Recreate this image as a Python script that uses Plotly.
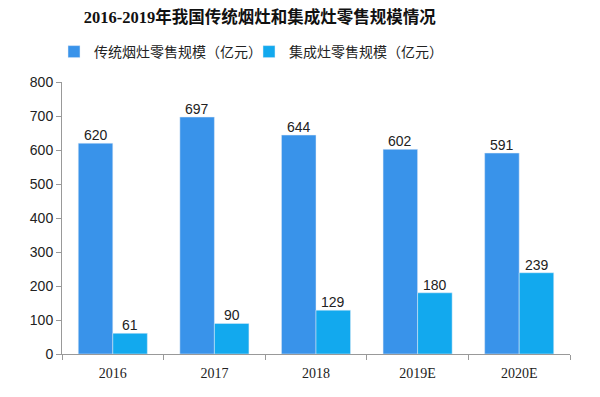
import plotly.graph_objects as go

categories = ["2016", "2017", "2018", "2019E", "2020E"]
traditional = [620, 697, 644, 602, 591]
integrated = [61, 90, 129, 180, 239]
series_names = ["传统烟灶零售规模（亿元）", "集成灶零售规模（亿元）"]
title_text = "2016-2019年我国传统烟灶和集成灶零售规模情况"

serif_fam = "Liberation Serif, Noto Sans CJK SC, serif"
num_fam = "Liberation Sans, Arial, sans-serif"
colors = ["#3993ea", "#12a9ee"]

fig = go.Figure()
for name, vals, col in zip(series_names, [traditional, integrated], colors):
    fig.add_trace(go.Bar(x=categories, y=vals, name=name, marker_color=col))

# value labels just above each bar (x given as category index)
half_bar_px = 17.3
for vals, shift in [(traditional, -half_bar_px), (integrated, half_bar_px)]:
    for i, v in enumerate(vals):
        fig.add_annotation(x=i, y=v, text=str(v), showarrow=False,
                           xshift=shift, yanchor="bottom", yshift=-2,
                           font=dict(size=14, color="#222", family=num_fam))

fig.update_layout(
    width=600, height=397,
    margin=dict(l=62, r=30, t=82, b=43, autoexpand=False),
    paper_bgcolor="white", plot_bgcolor="white",
    font=dict(family=num_fam, size=14, color="#222"),
    title=dict(text="<b>" + title_text + "</b>", x=0.433, xanchor="center",
               xref="container", yref="container",
               y=0.957, yanchor="middle", font=dict(size=16.5, family=serif_fam, color="#111")),
    barmode="group", bargap=0.32, bargroupgap=0,
    legend=dict(orientation="h", x=0.09, y=0.869, xref="container", yref="container",
                xanchor="left", yanchor="middle",
                font=dict(size=14, family="Noto Sans CJK SC", color="#222"),
                entrywidth=150, entrywidthmode="pixels", itemwidth=30),
    showlegend=True,
)
fig.update_yaxes(range=[0, 800], dtick=100, showgrid=False, showline=True,
                 linecolor="#999", ticks="outside", ticklen=5, tickcolor="#999",
                 tickfont=dict(size=14, family=num_fam), zeroline=False)
fig.update_xaxes(type="category", categoryorder="array", categoryarray=categories,
                 range=[-0.5, len(categories) - 0.5],
                 showline=True, linecolor="#999", ticks="outside", ticklen=5,
                 tickcolor="#999", tickson="boundaries", ticklabelstandoff=6,
                 tickangle=0, tickfont=dict(size=14, family=serif_fam))

fig.write_html("out.html", config={"displayModeBar": False},
               post_script="document.body.style.margin='0';")
